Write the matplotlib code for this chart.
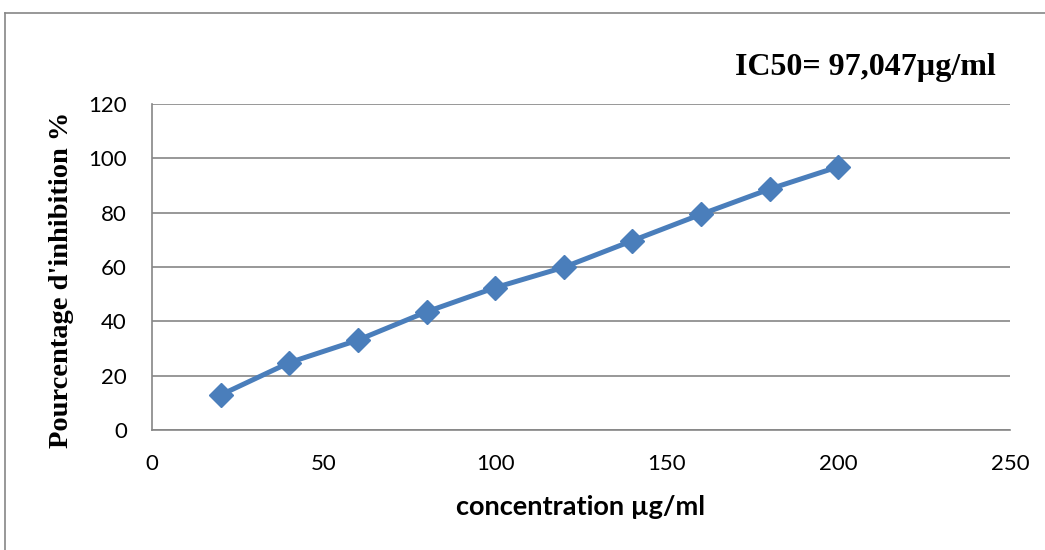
import matplotlib
matplotlib.use('Agg')
import matplotlib.pyplot as plt
from matplotlib.lines import Line2D

# ------------------------- #
# Données
# ------------------------- #

concentration = [20, 40, 60, 80, 100, 120, 140, 160, 180, 200]
inhibition = [12.9, 24.8, 33.1, 43.5, 52.4, 59.9, 69.7, 79.4, 88.7, 96.9]

x_ticks = [0, 50, 100, 150, 200, 250]
y_ticks = [0, 20, 40, 60, 80, 100, 120]

x_label = 'concentration µg/ml'
y_label = "Pourcentage d'inhibition %"
ic50_text = 'IC50= 97,047µg/ml'

# ------------------------- #
# Figure
# ------------------------- #

BLUE = '#4A7EBB'
GRID = '#868686'

fig = plt.figure(figsize=(10.45, 5.5), dpi=100)
ax = fig.add_axes([152 / 1045, 1 - 430 / 550, (1010 - 152) / 1045, (430 - 104) / 550])

ax.plot(concentration, inhibition, color=BLUE, lw=3.6, marker='D',
        markersize=12, markerfacecolor=BLUE, markeredgecolor=BLUE,
        solid_joinstyle='round', zorder=3)

ax.set_xlim(0, 250)
ax.set_ylim(0, 120)
ax.set_xticks(x_ticks)
ax.set_yticks(y_ticks)
ax.yaxis.grid(True, color=GRID, lw=1.2)
ax.set_axisbelow(True)

for side in ['top', 'right']:
    ax.spines[side].set_visible(False)
for side in ['left', 'bottom']:
    ax.spines[side].set_color(GRID)
    ax.spines[side].set_linewidth(1.2)

ax.tick_params(axis='both', length=0, labelsize=16)
ax.tick_params(axis='x', pad=17)
ax.tick_params(axis='y', pad=18)
for lab in ax.get_xticklabels() + ax.get_yticklabels():
    lab.set_family('Lato')

fig.text(581 / 1045, 1 - 507 / 550, x_label, ha='center', va='center',
         fontsize=19.5, fontweight='bold', family='Lato')
fig.text(62 / 1045, 1 - 280 / 550, y_label, ha='center', va='center',
         rotation=90, fontsize=20.5, fontweight='bold', family='Liberation Serif')
fig.text(865 / 1045, 1 - 68 / 550, ic50_text, ha='center', va='center',
         fontsize=23, fontweight='bold', family='Liberation Serif')

# cadre gris autour du graphique
fig.add_artist(Line2D([5 / 1045, 1], [1 - 13 / 550, 1 - 13 / 550],
                      transform=fig.transFigure, color=GRID, lw=1.2))
fig.add_artist(Line2D([5 / 1045, 5 / 1045], [0, 1 - 13 / 550],
                      transform=fig.transFigure, color=GRID, lw=1.2))

fig.savefig('out.png', dpi=100)
